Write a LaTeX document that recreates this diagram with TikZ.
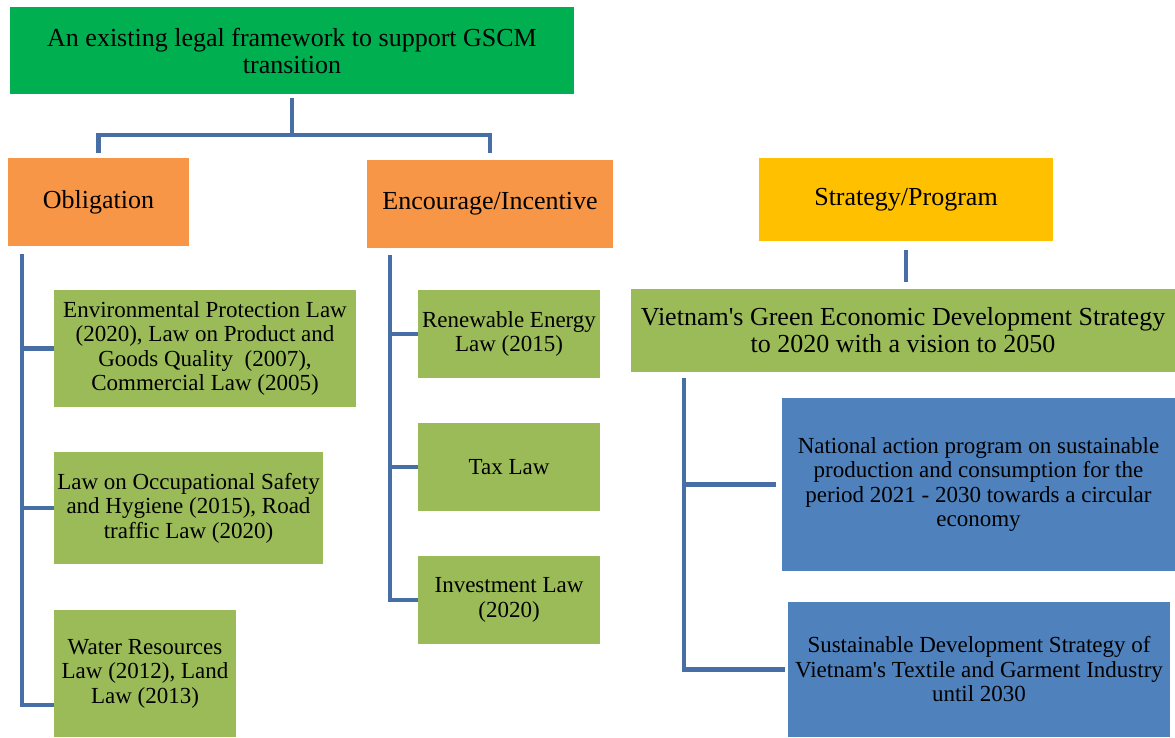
\documentclass[tikz,border=0pt]{standalone}
\usepackage{fontspec}
\setmainfont{Liberation Serif}
\newfontfamily\boxfont{Liberation Serif}
\definecolor{topgreen}{HTML}{00B050}
\definecolor{orangebox}{HTML}{F79646}
\definecolor{yellowbox}{HTML}{FFC000}
\definecolor{olivebox}{HTML}{9BBB59}
\definecolor{bluebox}{HTML}{4F81BD}
\definecolor{linkblue}{RGB}{72,110,166}
\begin{document}
\begin{tikzpicture}[x=1pt,y=-1pt,
  box/.style={rectangle, inner sep=0pt, align=center, text=black},
  head/.style={box, font=\boxfont\fontsize{26}{27}\selectfont},
  leaf/.style={box, font=\boxfont\fontsize{23}{24.5}\selectfont},
  conn/.style={draw=linkblue, line width=4.5pt, line join=miter}]
\useasboundingbox (0,0) rectangle (1175,737);

% root and first level
\node[head, fill=topgreen, minimum width=564pt, minimum height=87pt] (top) at (292,50.5)
  {An existing legal framework to support GSCM\\transition};
\node[head, fill=orangebox, minimum width=181pt, minimum height=88pt] (obl) at (98.5,202) {Obligation};
\node[head, fill=orangebox, minimum width=246pt, minimum height=88pt] (enc) at (490,204) {Encourage/Incentive};
\node[head, fill=yellowbox, minimum width=294pt, minimum height=83pt] (strat) at (906,199.5) {Strategy/Program};
\node[head, fill=olivebox, minimum width=544pt, minimum height=83pt] (green) at (903,330.5)
  {Vietnam\textquotesingle s Green Economic Development Strategy\\to 2020 with a vision to 2050};

% obligation laws
\node[leaf, fill=olivebox, minimum width=302pt, minimum height=117pt] (o1) at (205,348.5)
  {Environmental Protection Law\\(2020), Law on Product and\\Goods Quality\ \ (2007),\\Commercial Law (2005)};
\node[leaf, fill=olivebox, minimum width=269pt, minimum height=112pt] (o2) at (188.5,508)
  {Law on Occupational Safety\\and Hygiene (2015), Road\\traffic Law (2020)};
\node[leaf, fill=olivebox, minimum width=182pt, minimum height=127pt] (o3) at (145,673.5)
  {Water Resources\\Law (2012), Land\\Law (2013)};

% incentive laws
\node[leaf, fill=olivebox, minimum width=182pt, minimum height=88pt] (e1) at (509,334)
  {Renewable Energy\\Law (2015)};
\node[leaf, fill=olivebox, minimum width=182pt, minimum height=88pt] (e2) at (509,467) {Tax Law};
\node[leaf, fill=olivebox, minimum width=182pt, minimum height=88pt] (e3) at (509,600)
  {Investment Law\\(2020)};

% programmes
\node[leaf, fill=bluebox, minimum width=393pt, minimum height=173pt] (b1) at (978.5,484.5)
  {National action program on sustainable\\production and consumption for the\\period 2021 - 2030 towards a circular\\economy};
\node[leaf, fill=bluebox, minimum width=382pt, minimum height=135pt] (b2) at (979,669.5)
  {Sustainable Development Strategy of\\Vietnam\textquotesingle s Textile and Garment Industry\\until 2030};

% root to first level
\coordinate (tj) at ([yshift=-41pt]top.south);
\draw[conn] ([yshift=-4pt]top.south) -- (tj);
\draw[conn] ([yshift=5pt]obl.north) |- (tj) -| ([yshift=7pt]enc.north);

% obligation spine
\coordinate (os) at ([xshift=14pt,yshift=-8pt]obl.south west);
\draw[conn] (os) |- ([yshift=-31.5pt]o3.west);
\draw[conn] (os |- o1.west) -- (o1.west);
\draw[conn] (os |- o2.west) -- (o2.west);

% incentive spine
\coordinate (es) at ([xshift=23pt,yshift=-7pt]enc.south west);
\draw[conn] (es) |- (e3.west);
\draw[conn] (es |- e1.west) -- (e1.west);
\draw[conn] (es |- e2.west) -- (e2.west);

% strategy branch
\draw[conn, shorten <=9pt, shorten >=7pt] (strat.south) -- (strat.south |- green.north);
\coordinate (vs) at ([xshift=53pt,yshift=-6pt]green.south west);
\draw[conn] (vs) |- ([xshift=-3pt]b2.west);
\draw[conn] (vs |- b1.west) -- ([xshift=-6pt]b1.west);
\end{tikzpicture}
\end{document}
